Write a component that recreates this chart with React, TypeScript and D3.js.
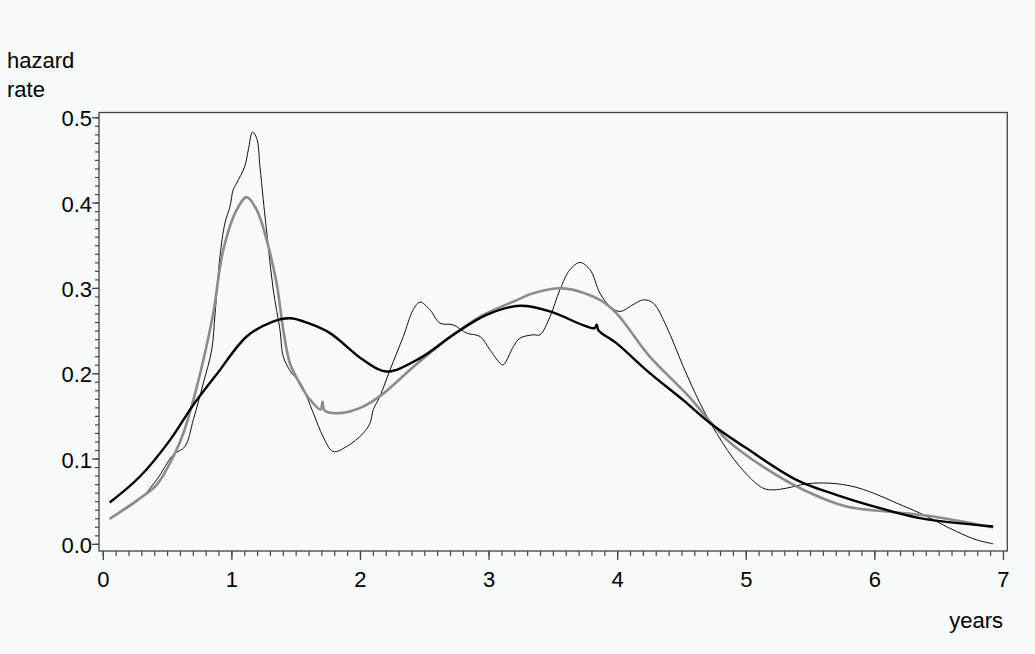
import React from 'react'
import * as d3 from 'd3'

// three hazard estimates, [years, rate]
const smoothWide: [number, number][] = [
  [0.05, 0.049], [0.285, 0.0795], [0.52, 0.1225], [0.7, 0.1635], [0.88, 0.199],
  [1.115, 0.2436], [1.3, 0.26], [1.45, 0.265], [1.6, 0.259], [1.763, 0.2476], [2.02, 0.2163],
  [2.2, 0.2026], [2.46, 0.218], [2.722, 0.2456], [2.98, 0.269], [3.24, 0.2796],
  [3.474, 0.273], [3.73, 0.257], [3.82, 0.2535], [3.837, 0.2575], [3.85, 0.251],
  [3.99, 0.2358], [4.25, 0.2007], [4.51, 0.169], [4.72, 0.142], [5.0, 0.1128],
  [5.39, 0.0756], [5.7, 0.058], [6.04, 0.0424], [6.35, 0.0307], [6.92, 0.0209],
]

const smoothMid: [number, number][] = [
  [0.05, 0.0299], [0.285, 0.054], [0.415, 0.0697], [0.545, 0.103], [0.622, 0.13],
  [0.7, 0.169], [0.778, 0.216], [0.855, 0.271], [0.933, 0.345], [1.037, 0.392],
  [1.115, 0.407], [1.193, 0.392], [1.27, 0.357], [1.348, 0.306], [1.4, 0.251],
  [1.452, 0.212], [1.53, 0.188], [1.6, 0.171], [1.69, 0.158], [1.705, 0.167], [1.72, 0.157],
  [1.84, 0.1538], [2.02, 0.1615], [2.18, 0.177], [2.41, 0.208], [2.67, 0.24],
  [2.93, 0.267], [3.19, 0.2846], [3.344, 0.2944], [3.577, 0.3], [3.862, 0.2866],
  [3.99, 0.271], [4.25, 0.22], [4.537, 0.176], [4.85, 0.1225], [5.13, 0.091],
  [5.443, 0.064], [5.78, 0.0443], [6.09, 0.0385], [6.35, 0.0346], [6.56, 0.03], [6.92, 0.0197],
]

const smoothNarrow: [number, number][] = [
  [0.05, 0.0299], [0.285, 0.053], [0.415, 0.0756], [0.545, 0.105], [0.635, 0.1147],
  [0.7, 0.146], [0.778, 0.189], [0.843, 0.228], [0.869, 0.27], [0.907, 0.337],
  [0.946, 0.3766], [0.985, 0.396], [1.01, 0.4156], [1.037, 0.4234], [1.1, 0.443],
  [1.128, 0.4625], [1.16, 0.4832], [1.193, 0.476], [1.218, 0.443], [1.244, 0.404],
  [1.283, 0.349], [1.322, 0.298], [1.374, 0.2515], [1.4, 0.22], [1.465, 0.2007],
  [1.53, 0.19], [1.633, 0.154], [1.71, 0.126], [1.788, 0.1088], [1.893, 0.1147],
  [2.02, 0.13], [2.074, 0.142], [2.1, 0.158], [2.15, 0.173], [2.23, 0.2046],
  [2.333, 0.2436], [2.41, 0.275], [2.463, 0.284], [2.54, 0.275], [2.618, 0.2593],
  [2.72, 0.2573], [2.826, 0.2476], [2.93, 0.2436], [3.007, 0.228], [3.085, 0.2124],
  [3.11, 0.2104], [3.19, 0.232], [3.24, 0.2417], [3.344, 0.2456], [3.396, 0.2456],
  [3.474, 0.267], [3.551, 0.2984], [3.629, 0.322], [3.707, 0.3304], [3.785, 0.322],
  [3.862, 0.2945], [3.94, 0.2788], [4.018, 0.273], [4.12, 0.281], [4.2, 0.2866],
  [4.277, 0.2827], [4.38, 0.2553], [4.51, 0.2085], [4.64, 0.1655], [4.77, 0.13],
  [4.95, 0.091], [5.13, 0.0659], [5.21, 0.0639], [5.314, 0.0659], [5.47, 0.071],
  [5.65, 0.0717], [5.83, 0.0678], [5.99, 0.06], [6.17, 0.0483], [6.35, 0.0366],
  [6.636, 0.015], [6.79, 0.0053], [6.92, 0.0006],
]

const xTicks = [0, 1, 2, 3, 4, 5, 6, 7]
const yTicks = [0, 0.1, 0.2, 0.3, 0.4, 0.5]
const xMinor = d3.range(0, 70).map(i => i / 10)
const yMinor = d3.range(0, 51).map(i => i / 100)

const W = 1035
const H = 654
const bg = '#f6faf8'
const font = '"Liberation Sans", Arial, Helvetica, sans-serif'

export default function App() {
  const left = 99, right = 1007.3, top = 112.5, bottom = 551

  const x = d3.scaleLinear().domain([-0.0334, 7.03]).range([left, right])
  const y = d3.scaleLinear().domain([-0.0078, 0.5062]).range([bottom, top])

  const line = d3.line<[number, number]>()
    .x(d => x(d[0]))
    .y(d => y(d[1]))
    .curve(d3.curveCatmullRom.alpha(0.5))

  return (
    <svg width={W} height={H} style={{ position: 'absolute', left: 0, top: 0 }} fontFamily={font}>
      <rect width={W} height={H} fill={bg} />

      {/* curves */}
      <path d={line(smoothNarrow) ?? ''} fill="none" stroke="#111" strokeWidth={1} />
      <path d={line(smoothMid) ?? ''} fill="none" stroke="#8c8c8c" strokeWidth={2.6} />
      <path d={line(smoothWide) ?? ''} fill="none" stroke="#000" strokeWidth={2.4} />

      {/* frame */}
      <rect x={left} y={top} width={right - left} height={bottom - top}
        fill="none" stroke="#444" strokeWidth={1.3} />

      {/* x ticks */}
      {xMinor.map(v => (
        <line key={'xm' + v} x1={x(v)} x2={x(v)} y1={bottom} y2={bottom + 5} stroke="#444" strokeWidth={1.2} />
      ))}
      {xTicks.map(v => (
        <g key={'x' + v}>
          <line x1={x(v)} x2={x(v)} y1={bottom} y2={bottom + 9} stroke="#444" strokeWidth={1.3} />
          <text x={x(v)} y={587} textAnchor="middle" fontSize={22} fill="#000">{v}</text>
        </g>
      ))}

      {/* y ticks */}
      {yMinor.map(v => (
        <line key={'ym' + v} x1={left - 4} x2={left} y1={y(v)} y2={y(v)} stroke="#444" strokeWidth={1.2} />
      ))}
      {yTicks.map(v => (
        <g key={'y' + v}>
          <line x1={left - 7} x2={left} y1={y(v)} y2={y(v)} stroke="#444" strokeWidth={1.3} />
          <text x={92} y={y(v) + 8.5} textAnchor="end" fontSize={22} fill="#000">{v.toFixed(1)}</text>
        </g>
      ))}

      {/* axis titles */}
      <text x={7} y={68} fontSize={22} fill="#000">hazard</text>
      <text x={7} y={96.5} fontSize={22} fill="#000">rate</text>
      <text x={1003} y={628} textAnchor="end" fontSize={22} fill="#000">years</text>
    </svg>
  )
}
